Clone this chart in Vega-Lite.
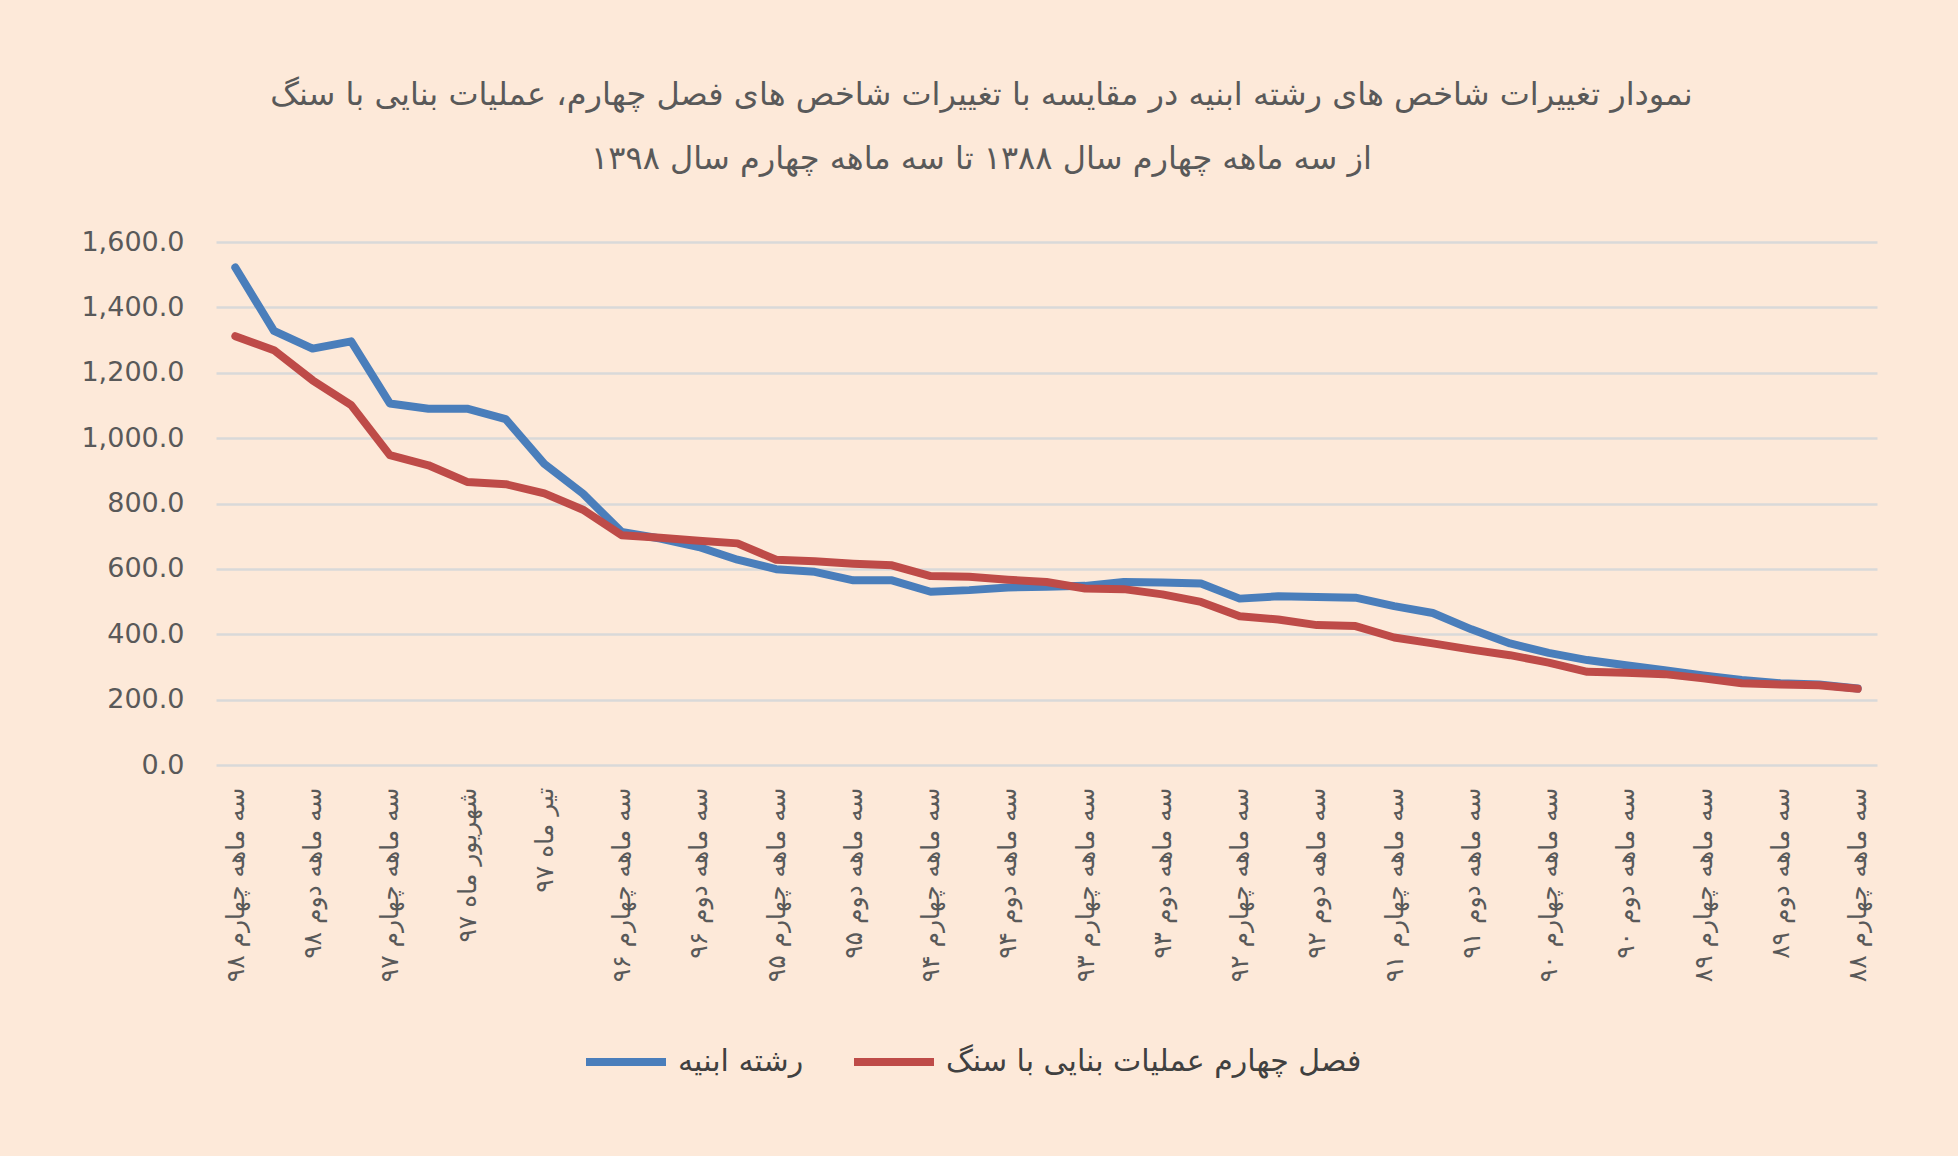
{
  "$schema": "https://vega.github.io/schema/vega-lite/v6.json",
  "autosize": {"type": "none"},
  "width": 1661,
  "height": 523,
  "padding": {"left": 216, "top": 242, "right": 81, "bottom": 391},
  "background": "#FDE9D9",
  "config": {"view": {"stroke": null}, "font": "DejaVu Sans"},
  "title": {
    "text": [
      "نمودار تغییرات شاخص های رشته ابنیه در مقایسه با تغییرات شاخص های فصل چهارم، عملیات بنایی با سنگ",
      "از سه ماهه چهارم سال ۱۳۸۸ تا سه ماهه چهارم سال ۱۳۹۸"
    ],
    "anchor": "middle",
    "font": "DejaVu Sans",
    "fontSize": 32,
    "fontWeight": "normal",
    "color": "#595959",
    "lineHeight": 64,
    "offset": 52,
    "dx": -65
  },
  "data": {
    "values": [
      {"period": "سه ماهه چهارم ۹۸", "رشته ابنیه": 1522, "فصل چهارم عملیات بنایی با سنگ": 1312},
      {"period": "سه ماهه سوم ۹۸", "رشته ابنیه": 1328, "فصل چهارم عملیات بنایی با سنگ": 1269},
      {"period": "سه ماهه دوم ۹۸", "رشته ابنیه": 1274, "فصل چهارم عملیات بنایی با سنگ": 1177},
      {"period": "سه ماهه اول ۹۸", "رشته ابنیه": 1296, "فصل چهارم عملیات بنایی با سنگ": 1101},
      {"period": "سه ماهه چهارم ۹۷", "رشته ابنیه": 1106, "فصل چهارم عملیات بنایی با سنگ": 948},
      {"period": "سه ماهه سوم ۹۷", "رشته ابنیه": 1090, "فصل چهارم عملیات بنایی با سنگ": 917},
      {"period": "شهریور ماه ۹۷", "رشته ابنیه": 1090, "فصل چهارم عملیات بنایی با سنگ": 866},
      {"period": "مرداد ماه ۹۷", "رشته ابنیه": 1058, "فصل چهارم عملیات بنایی با سنگ": 859},
      {"period": "تیر ماه ۹۷", "رشته ابنیه": 921, "فصل چهارم عملیات بنایی با سنگ": 831},
      {"period": "سه ماهه اول ۹۷", "رشته ابنیه": 830, "فصل چهارم عملیات بنایی با سنگ": 781},
      {"period": "سه ماهه چهارم ۹۶", "رشته ابنیه": 713, "فصل چهارم عملیات بنایی با سنگ": 703},
      {"period": "سه ماهه سوم ۹۶", "رشته ابنیه": 693, "فصل چهارم عملیات بنایی با سنگ": 695},
      {"period": "سه ماهه دوم ۹۶", "رشته ابنیه": 667, "فصل چهارم عملیات بنایی با سنگ": 686},
      {"period": "سه ماهه اول ۹۶", "رشته ابنیه": 628, "فصل چهارم عملیات بنایی با سنگ": 678},
      {"period": "سه ماهه چهارم ۹۵", "رشته ابنیه": 599, "فصل چهارم عملیات بنایی با سنگ": 628},
      {"period": "سه ماهه سوم ۹۵", "رشته ابنیه": 591, "فصل چهارم عملیات بنایی با سنگ": 623},
      {"period": "سه ماهه دوم ۹۵", "رشته ابنیه": 565, "فصل چهارم عملیات بنایی با سنگ": 616},
      {"period": "سه ماهه اول ۹۵", "رشته ابنیه": 565, "فصل چهارم عملیات بنایی با سنگ": 611},
      {"period": "سه ماهه چهارم ۹۴", "رشته ابنیه": 530, "فصل چهارم عملیات بنایی با سنگ": 578},
      {"period": "سه ماهه سوم ۹۴", "رشته ابنیه": 535, "فصل چهارم عملیات بنایی با سنگ": 576},
      {"period": "سه ماهه دوم ۹۴", "رشته ابنیه": 543, "فصل چهارم عملیات بنایی با سنگ": 567},
      {"period": "سه ماهه اول ۹۴", "رشته ابنیه": 545, "فصل چهارم عملیات بنایی با سنگ": 560},
      {"period": "سه ماهه چهارم ۹۳", "رشته ابنیه": 548, "فصل چهارم عملیات بنایی با سنگ": 540},
      {"period": "سه ماهه سوم ۹۳", "رشته ابنیه": 560, "فصل چهارم عملیات بنایی با سنگ": 538},
      {"period": "سه ماهه دوم ۹۳", "رشته ابنیه": 558, "فصل چهارم عملیات بنایی با سنگ": 522},
      {"period": "سه ماهه اول ۹۳", "رشته ابنیه": 555, "فصل چهارم عملیات بنایی با سنگ": 499},
      {"period": "سه ماهه چهارم ۹۲", "رشته ابنیه": 509, "فصل چهارم عملیات بنایی با سنگ": 455},
      {"period": "سه ماهه سوم ۹۲", "رشته ابنیه": 516, "فصل چهارم عملیات بنایی با سنگ": 445},
      {"period": "سه ماهه دوم ۹۲", "رشته ابنیه": 514, "فصل چهارم عملیات بنایی با سنگ": 428},
      {"period": "سه ماهه اول ۹۲", "رشته ابنیه": 512, "فصل چهارم عملیات بنایی با سنگ": 425},
      {"period": "سه ماهه چهارم ۹۱", "رشته ابنیه": 486, "فصل چهارم عملیات بنایی با سنگ": 390},
      {"period": "سه ماهه سوم ۹۱", "رشته ابنیه": 465, "فصل چهارم عملیات بنایی با سنگ": 372},
      {"period": "سه ماهه دوم ۹۱", "رشته ابنیه": 415, "فصل چهارم عملیات بنایی با سنگ": 353},
      {"period": "سه ماهه اول ۹۱", "رشته ابنیه": 372, "فصل چهارم عملیات بنایی با سنگ": 336},
      {"period": "سه ماهه چهارم ۹۰", "رشته ابنیه": 343, "فصل چهارم عملیات بنایی با سنگ": 313},
      {"period": "سه ماهه سوم ۹۰", "رشته ابنیه": 321, "فصل چهارم عملیات بنایی با سنگ": 285},
      {"period": "سه ماهه دوم ۹۰", "رشته ابنیه": 305, "فصل چهارم عملیات بنایی با سنگ": 282},
      {"period": "سه ماهه اول ۹۰", "رشته ابنیه": 290, "فصل چهارم عملیات بنایی با سنگ": 278},
      {"period": "سه ماهه چهارم ۸۹", "رشته ابنیه": 274, "فصل چهارم عملیات بنایی با سنگ": 265},
      {"period": "سه ماهه سوم ۸۹", "رشته ابنیه": 260, "فصل چهارم عملیات بنایی با سنگ": 250},
      {"period": "سه ماهه دوم ۸۹", "رشته ابنیه": 250, "فصل چهارم عملیات بنایی با سنگ": 246},
      {"period": "سه ماهه اول ۸۹", "رشته ابنیه": 246, "فصل چهارم عملیات بنایی با سنگ": 244},
      {"period": "سه ماهه چهارم ۸۸", "رشته ابنیه": 234, "فصل چهارم عملیات بنایی با سنگ": 233}
    ]
  },
  "transform": [
    {"fold": ["رشته ابنیه", "فصل چهارم عملیات بنایی با سنگ"], "as": ["series", "value"]}
  ],
  "mark": {"type": "line", "strokeWidth": 8, "strokeCap": "round", "strokeJoin": "round"},
  "encoding": {
    "x": {
      "field": "period",
      "type": "nominal",
      "sort": null,
      "scale": {"type": "point", "padding": 0.5},
      "axis": {
        "title": null,
        "values": [
          "سه ماهه چهارم ۹۸", "سه ماهه دوم ۹۸", "سه ماهه چهارم ۹۷", "شهریور ماه ۹۷", "تیر ماه ۹۷",
          "سه ماهه چهارم ۹۶", "سه ماهه دوم ۹۶", "سه ماهه چهارم ۹۵", "سه ماهه دوم ۹۵", "سه ماهه چهارم ۹۴",
          "سه ماهه دوم ۹۴", "سه ماهه چهارم ۹۳", "سه ماهه دوم ۹۳", "سه ماهه چهارم ۹۲", "سه ماهه دوم ۹۲",
          "سه ماهه چهارم ۹۱", "سه ماهه دوم ۹۱", "سه ماهه چهارم ۹۰", "سه ماهه دوم ۹۰", "سه ماهه چهارم ۸۹",
          "سه ماهه دوم ۸۹", "سه ماهه چهارم ۸۸"
        ],
        "labelAngle": -90,
        "labelFont": "DejaVu Sans",
        "labelFontSize": 25,
        "labelColor": "#595959",
        "labelPadding": 22,
        "labelLimit": 400,
        "labelOverlap": false,
        "ticks": false,
        "domain": false,
        "grid": false
      }
    },
    "y": {
      "field": "value",
      "type": "quantitative",
      "scale": {"domain": [0, 1600], "nice": false},
      "axis": {
        "title": null,
        "values": [0, 200, 400, 600, 800, 1000, 1200, 1400, 1600],
        "format": ",.1f",
        "labelFont": "DejaVu Sans",
        "labelFontSize": 27,
        "labelColor": "#595959",
        "labelPadding": 32,
        "ticks": false,
        "domain": false,
        "gridColor": "#D9D9D9",
        "gridWidth": 2.5
      }
    },
    "color": {
      "field": "series",
      "type": "nominal",
      "scale": {
        "domain": ["رشته ابنیه", "فصل چهارم عملیات بنایی با سنگ"],
        "range": ["#4A7EBB", "#BE4B48"]
      },
      "legend": {
        "title": null,
        "orient": "none",
        "legendX": 366,
        "legendY": 776,
        "direction": "horizontal",
        "symbolType": "stroke",
        "symbolStrokeWidth": 8,
        "symbolSize": 6400,
        "labelFont": "DejaVu Sans",
        "labelFontSize": 30,
        "labelColor": "#404040",
        "labelLimit": 700,
        "labelOffset": 8,
        "columnPadding": 34
      }
    }
  }
}
